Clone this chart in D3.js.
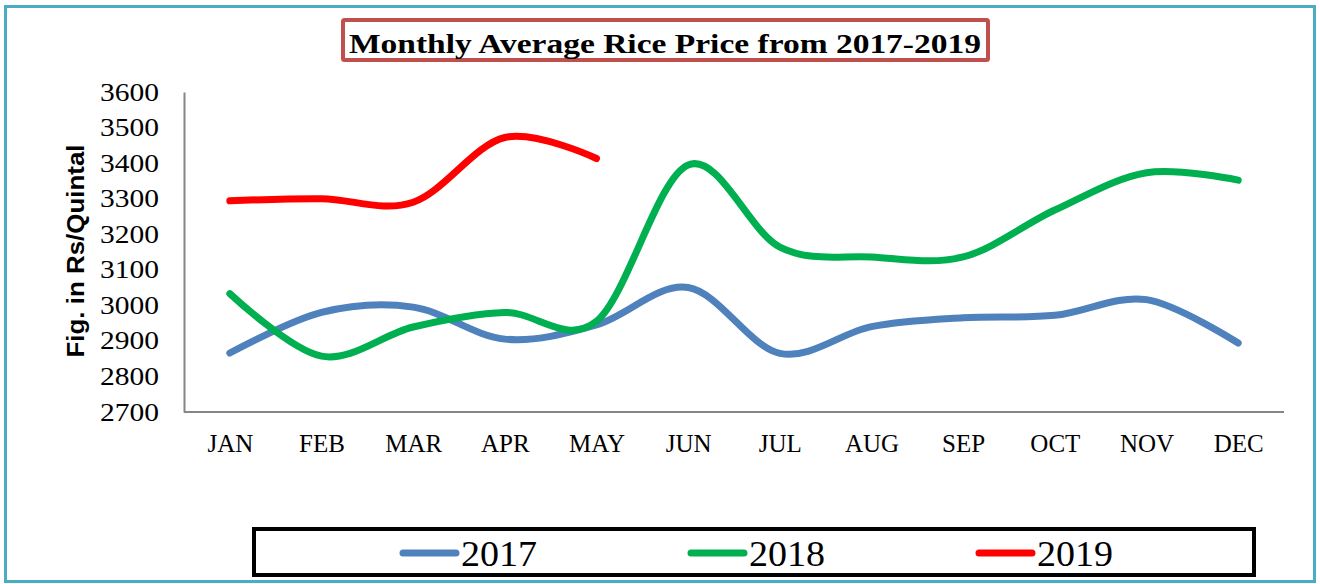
<!DOCTYPE html>
<html>
<head>
<meta charset="utf-8">
<script src="https://cdn.jsdelivr.net/npm/d3@7"></script>
<style>
  html, body { margin: 0; padding: 0; background: #fff; }
  svg { display: block; }
</style>
</head>
<body>
<svg id="chart" width="1320" height="584"></svg>
<script>
// ---- data ----
const months = ["JAN","FEB","MAR","APR","MAY","JUN","JUL","AUG","SEP","OCT","NOV","DEC"];
const years = ["2017","2018","2019"];
const values2017 = [2866, 2980, 2995, 2905, 2945, 3050, 2865, 2940, 2965, 2972, 3016, 2894];
const values2018 = [3033, 2857, 2939, 2980, 2955, 3395, 3164, 3136, 3136, 3268, 3373, 3352];
const values2019 = [3294, 3300, 3290, 3472, 3413];
const yTicks = [2700, 2800, 2900, 3000, 3100, 3200, 3300, 3400, 3500, 3600];
const titleText = "Monthly Average Rice Price from 2017-2019";
const yTitle = "Fig. in Rs/Quintal";

const colors = ["#4F81BD", "#00B050", "#FF0000"];
const seriesValues = [values2017, values2018, values2019];

const svg = d3.select("#chart");

// outer border
svg.append("rect")
  .attr("x", 5.5).attr("y", 6.5)
  .attr("width", 1309).attr("height", 575)
  .attr("fill", "#fff")
  .attr("stroke", "#4BACC6").attr("stroke-width", 3);

// scales
const x = d3.scalePoint().domain(months).range([184, 1284]).padding(0.5);
const y = d3.scaleLinear().domain([2700, 3600]).range([412, 92]);

// title
svg.append("rect")
  .attr("x", 343).attr("y", 20)
  .attr("width", 645).attr("height", 40)
  .attr("fill", "#fff")
  .attr("stroke", "#C0504D").attr("stroke-width", 4)
  .attr("rx", 1.5);
svg.append("text")
  .attr("x", 349).attr("y", 53)
  .attr("font-family", "'Liberation Serif', 'Times New Roman', serif")
  .attr("font-weight", "bold")
  .attr("font-size", 28)
  .attr("textLength", 632)
  .attr("lengthAdjust", "spacingAndGlyphs")
  .attr("fill", "#000")
  .text(titleText);

// y axis
const yAxis = svg.append("g")
  .attr("transform", "translate(184,0)")
  .call(d3.axisLeft(y).tickValues(yTicks).tickSize(0).tickPadding(25).tickFormat(d3.format("d")));
yAxis.select(".domain").attr("stroke", "#868686").attr("stroke-width", 2);
yAxis.selectAll("text")
  .attr("font-family", "'Liberation Serif', 'Times New Roman', serif")
  .attr("font-size", 25)
  .attr("textLength", 59)
  .attr("lengthAdjust", "spacingAndGlyphs")
  .attr("fill", "#000");

// x axis
const xAxis = svg.append("g")
  .attr("transform", "translate(0,412)")
  .call(d3.axisBottom(x).tickSize(0).tickSizeOuter(0));
xAxis.select(".domain").attr("stroke", "#868686").attr("stroke-width", 2)
  .attr("d", "M184,0H1284");
xAxis.selectAll("text")
  .attr("dy", null)
  .attr("y", 40)
  .attr("font-family", "'Liberation Serif', 'Times New Roman', serif")
  .attr("font-size", 25)
  .attr("fill", "#000");

// y title
svg.append("text")
  .attr("transform", "translate(84,251) rotate(-90)")
  .attr("text-anchor", "middle")
  .attr("font-family", "'Liberation Sans', Arial, sans-serif")
  .attr("font-weight", "bold")
  .attr("font-size", 24)
  .attr("textLength", 213)
  .attr("lengthAdjust", "spacingAndGlyphs")
  .attr("fill", "#000")
  .text(yTitle);

// lines
const line = d3.line()
  .x((d, i) => x(months[i]))
  .y(d => y(d))
  .curve(d3.curveCardinal.tension(0));

svg.append("g").selectAll("path")
  .data(seriesValues)
  .join("path")
  .attr("d", d => line(d))
  .attr("fill", "none")
  .attr("stroke", (d, i) => colors[i])
  .attr("stroke-width", 7)
  .attr("stroke-linecap", "round")
  .attr("stroke-linejoin", "round");

// legend
svg.append("rect")
  .attr("x", 254).attr("y", 529)
  .attr("width", 1000).attr("height", 46)
  .attr("fill", "#fff")
  .attr("stroke", "#000").attr("stroke-width", 4);

const legend = svg.append("g").selectAll("g")
  .data(years)
  .join("g")
  .attr("transform", (d, i) => `translate(${400 + i * 288},553)`);
legend.append("line")
  .attr("x1", 3).attr("x2", 56)
  .attr("y1", 0).attr("y2", 0)
  .attr("stroke", (d, i) => colors[i])
  .attr("stroke-width", 7)
  .attr("stroke-linecap", "round");
legend.append("text")
  .attr("x", 61).attr("y", 13)
  .attr("font-family", "'Liberation Serif', 'Times New Roman', serif")
  .attr("font-size", 36)
  .attr("textLength", 76)
  .attr("lengthAdjust", "spacingAndGlyphs")
  .attr("fill", "#000")
  .text(d => d);
</script>
</body>
</html>
